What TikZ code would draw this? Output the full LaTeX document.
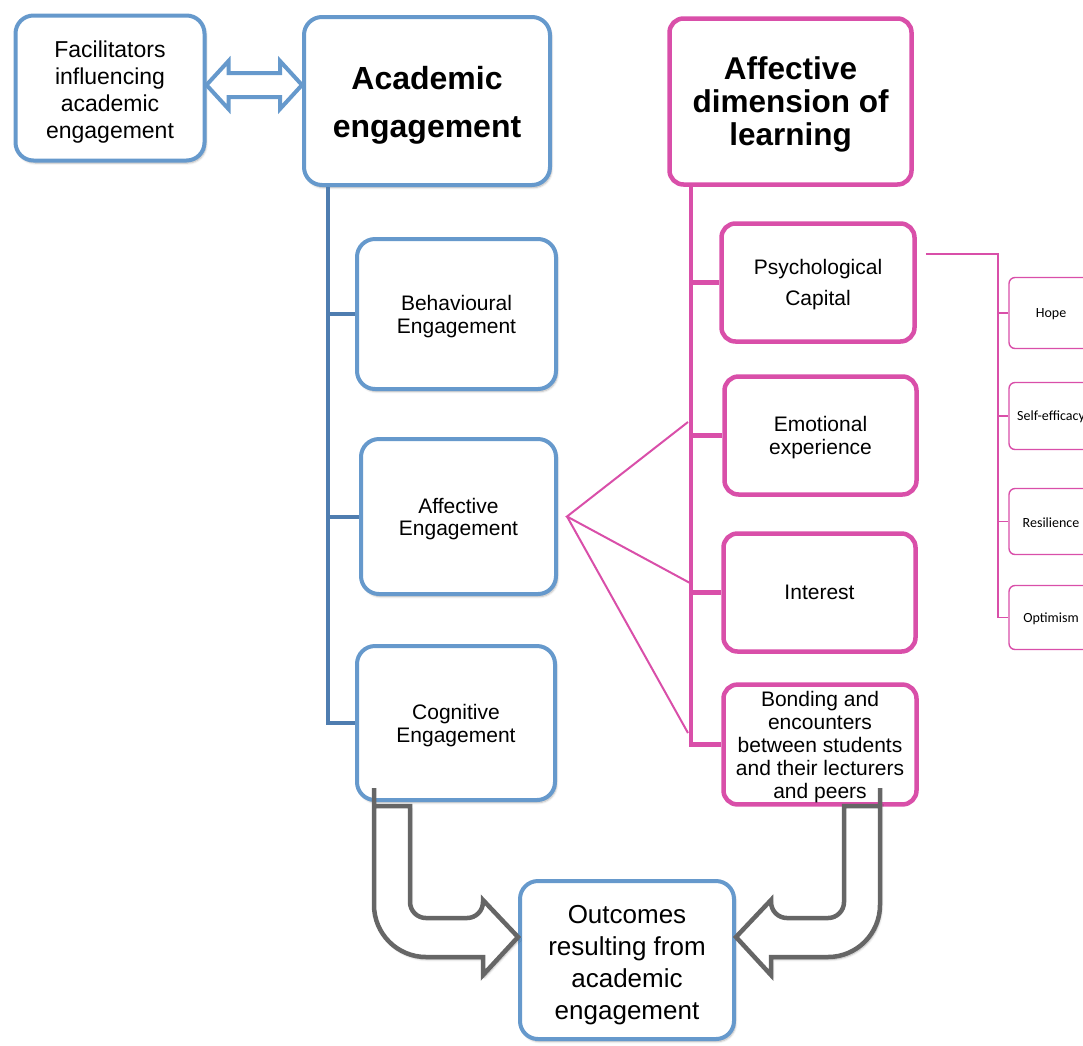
\documentclass[tikz,border=0pt]{standalone}
\usepackage{fontspec}
\setmainfont{Liberation Sans}
\newfontfamily\leaffont{Carlito}
\usetikzlibrary{calc,shadows.blur}
\definecolor{boxblue}{HTML}{6699CC}
\definecolor{trunkblue}{HTML}{4F7DB0}
\definecolor{rose}{HTML}{D94FA9}
\definecolor{arrowgray}{HTML}{666666}
% invisible strut that makes the first line taller, so the text block sits lower
\newcommand\topstrut[1]{\rule{0pt}{#1}}
\begin{document}
\begin{tikzpicture}[x=1pt,y=-1pt,
  soft/.style={blur shadow={shadow xshift=1.5pt,shadow yshift=-2.5pt,shadow blur steps=6,shadow opacity=30}},
  bluebox/.style={draw=boxblue,line width=4pt,fill=white,rounded corners=18pt,align=center,inner sep=2pt,soft},
  pinkbox/.style={draw=rose,line width=4.5pt,fill=white,rounded corners=14pt,align=center,inner sep=2pt},
  leafbox/.style={draw=rose,line width=1.4pt,fill=white,rounded corners=6pt,align=center,minimum width=84pt,
    font={\leaffont\fontsize{14}{16}\selectfont}},
  mid/.style={font={\fontsize{21}{22.5}\selectfont}},
  head/.style={font={\bfseries\fontsize{32}{48}\selectfont}},
  bigarrow/.style={draw=arrowgray,line width=4.5pt,fill=white,line join=miter,soft}]
\useasboundingbox (0,0) rectangle (1083,1045);

% ---------- academic engagement side ----------
\node[bluebox,minimum width=189pt,minimum height=145pt,font={\fontsize{23}{27}\selectfont}]
  (fac) at (110,88) {\topstrut{25pt}Facilitators\\influencing\\academic\\engagement};
\node[bluebox,minimum width=246pt,minimum height=168pt,head] (ae) at (427,101) {\topstrut{31.5pt}Academic\\engagement};
\node[bluebox,minimum width=199pt,minimum height=150pt,mid] (beh) at (456.5,314) {\topstrut{20pt}Behavioural\\Engagement};
\node[bluebox,minimum width=195pt,minimum height=155pt,mid] (affe) at (458.5,516.5) {\topstrut{20.5pt}Affective\\Engagement};
\node[bluebox,minimum width=198pt,minimum height=154pt,mid] (cog) at (456,723) {\topstrut{20.5pt}Cognitive\\Engagement};
\node[bluebox,minimum width=214pt,minimum height=158pt,font={\fontsize{26}{32}\selectfont}]
  (out) at (627,960) {\topstrut{29pt}Outcomes\\resulting from\\academic\\engagement};

% trunk joining the three kinds of engagement
\coordinate (btop) at (ae.south -| 328,0);
\draw[trunkblue,line width=4pt] (btop) |- (beh.west);
\draw[trunkblue,line width=4pt] (btop) |- (affe.west);
\draw[trunkblue,line width=4pt] (btop) |- (cog.west);

% two-headed block arrow between facilitators and engagement
\coordinate (la) at (fac.east |- 0,85);
\coordinate (ra) at (ae.west |- 0,85);
\draw[draw=boxblue,line width=4pt,fill=white,line join=miter]
  (la) -- ++(22,-24) -- ++(0,12) -- ($(ra)+(-22,-12)$) -- ++(0,-12) -- (ra)
  -- ++(-22,24) -- ++(0,-12) -- ($(la)+(22,12)$) -- ++(0,12) -- cycle;

% ---------- affective dimension side ----------
\node[pinkbox,minimum width=242pt,minimum height=166pt,font={\bfseries\fontsize{31.5}{33}\selectfont}]
  (adl) at (790.5,101.5) {\topstrut{29pt}Affective\\dimension of\\learning};
\node[pinkbox,minimum width=193pt,minimum height=118pt,font={\fontsize{21}{31}\selectfont}]
  (psy) at (818,282.5) {\topstrut{19.5pt}Psychological\\Capital};
\node[pinkbox,minimum width=192pt,minimum height=118pt,mid] (emo) at (820.5,435.5) {\topstrut{19.5pt}Emotional\\experience};
\node[pinkbox,minimum width=192pt,minimum height=118pt,mid] (int) at (819.5,592.5) {Interest};
\node[pinkbox,minimum width=193pt,minimum height=118pt,font={\fontsize{21}{23}\selectfont}]
  (bond) at (820,744.5) {\topstrut{19.5pt}Bonding and\\encounters\\between students\\and their lecturers\\and peers};

\coordinate (ptop) at (adl.south -| 691,0);
\draw[rose,line width=4.5pt] (ptop) |- (psy.west);
\draw[rose,line width=4.5pt] (ptop) |- (emo.west);
\draw[rose,line width=4.5pt] (ptop) |- (int.west);
\draw[rose,line width=4.5pt] (ptop) |- (bond.west);

% fan from affective engagement towards the affective dimension
\coordinate (fan) at ($(affe.east)+(9,0)$);
\coordinate (f1) at (688,422);
\coordinate (f2) at (690,583);
\coordinate (f3) at (688,733);
\draw[rose,line width=2pt] (f1) -- (fan) -- (f2);
\draw[rose,line width=2pt] (fan) -- (f3);

% components of psychological capital
\node[leafbox,minimum height=71pt] (hope) at (1051,313) {\topstrut{12pt}Hope};
\node[leafbox,minimum height=67pt] (self) at (1051,416) {\topstrut{12pt}Self-efficacy};
\node[leafbox,minimum height=66pt] (res) at (1051,521.5) {\topstrut{12pt}Resilience};
\node[leafbox,minimum height=64pt] (opt) at (1051,617.5) {\topstrut{12pt}Optimism};
\coordinate (pc) at ($(psy.east)+(9,-28.5)$);
\coordinate (pj) at (998,254);
\draw[rose,line width=1.4pt] (pc) -- (pj) |- (opt.west);
\draw[rose,line width=1.4pt] (pj) |- (hope.west);
\draw[rose,line width=1.4pt] (pj) |- (self.west);
\draw[rose,line width=1.4pt] (pj) |- (res.west);

% ---------- curved block arrows into the outcomes ----------
\coordinate (lt) at (out.west |- 0,937);
\coordinate (rt) at (out.east |- 0,937);
\draw[bigarrow]
  (374,806) -- (410,806)
  [rounded corners=16pt] -- (410,918) -- (483,918)
  [sharp corners] -- (483,900) -- (lt) -- (483,975) -- (483,957) -- (440,957)
  [rounded corners=52pt] -- (374,957) -- (374,840)
  [sharp corners] -- cycle;
\draw[bigarrow]
  (880,806) -- (844,806)
  [rounded corners=16pt] -- (844,918) -- (771,918)
  [sharp corners] -- (771,900) -- (rt) -- (771,975) -- (771,957) -- (814,957)
  [rounded corners=52pt] -- (880,957) -- (880,840)
  [sharp corners] -- cycle;
\end{tikzpicture}
\end{document}
